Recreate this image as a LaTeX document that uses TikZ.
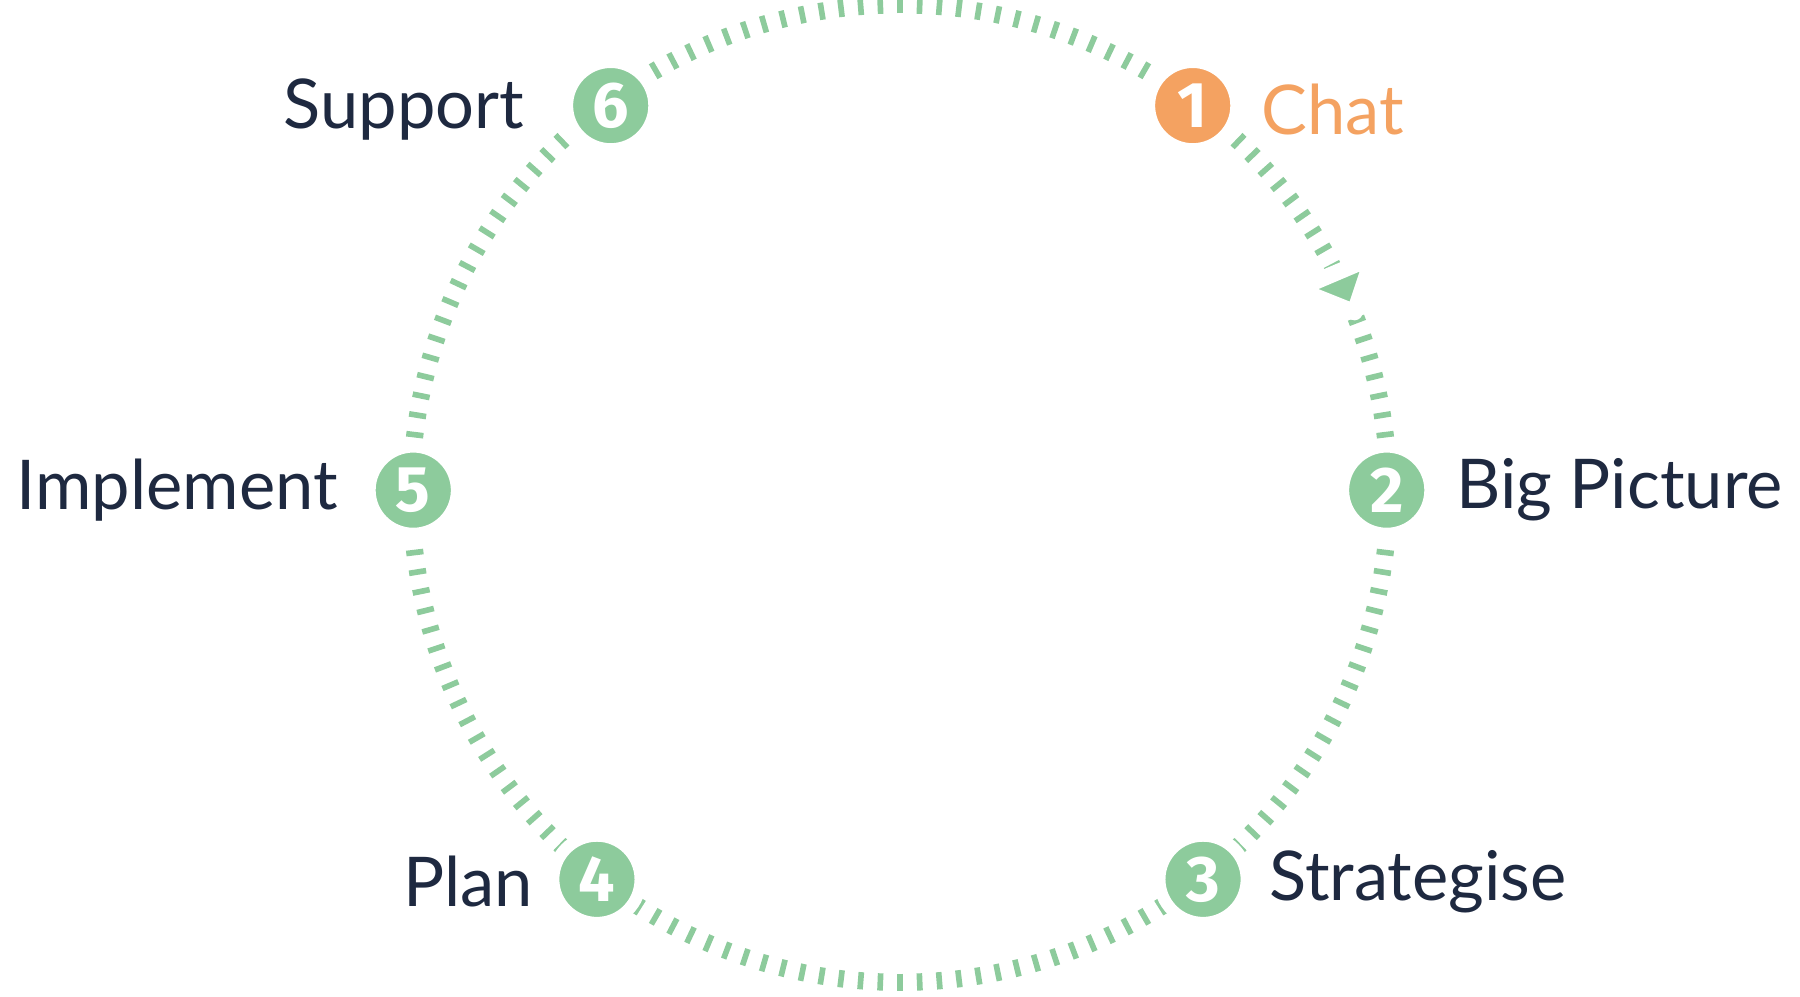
\documentclass[tikz,border=0pt]{standalone}
\usepackage{fontspec}
\setmainfont{Lato}
\newfontfamily\numfont{Fira Sans}
\definecolor{grn}{HTML}{8DCB9C}
\definecolor{org}{HTML}{F4A261}
\definecolor{navy}{HTML}{1E2940}
\begin{document}
\begin{tikzpicture}[x=0.01cm,y=-0.01cm,
  num/.style={circle,minimum size=0.76cm,inner sep=0pt,fill=grn,draw=white,line width=3pt,text=white,font=\numfont\bfseries\fontsize{16}{16}\selectfont},
  lab/.style={text=navy,font=\fontsize{17}{17}\selectfont,inner sep=0pt}]
\useasboundingbox (0,0) rectangle (1568,868);
\coordinate (c) at (784,430);
\foreach \a in {0,2.3077,...,359}
  \draw[grn,line width=1.4pt] (c) ++(\a:-4.18cm and 4.18cm) -- ++(\a:-0.15cm and 0.15cm);
\draw[fill=grn,draw=white,line width=4pt,line join=round] (1180,272) -- (1130,252) -- (1196,224) -- cycle;
\node[num,fill=org] (n1) at (1039,92) {1};
\node[num] (n2) at (1208,427) {2};
\node[num] (n3) at (1048,766) {3};
\node[num] (n4) at (520,766) {4};
\node[num] (n5) at (360,427) {5};
\node[num] (n6) at (532,92) {6};
\node[lab,text=org,anchor=west] (l1) at (1098,95) {Chat};
\node[lab,anchor=west] (l2) at (1268,427) {Big Picture};
\node[lab,anchor=west] (l3) at (1105,768) {Strategise};
\node[lab,anchor=east] (l4) at (465,768) {Plan};
\node[lab,anchor=east] (l5) at (295,427) {Implement};
\node[lab,anchor=east] (l6) at (457,95) {Support};
\end{tikzpicture}
\end{document}
